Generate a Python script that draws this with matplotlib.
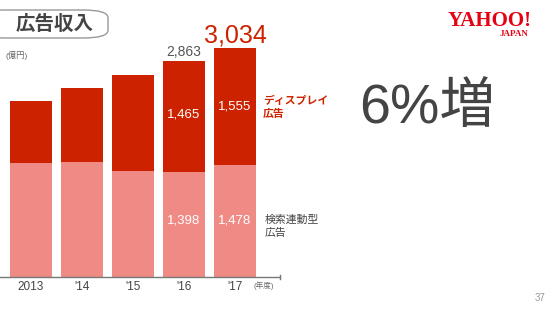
import matplotlib.pyplot as plt
from matplotlib.patches import FancyBboxPatch

plt.rcParams['font.family'] = ['Liberation Sans', 'Noto Sans CJK JP', 'DejaVu Sans']

# データ（億円）
years = ["2013", "'14", "'15", "'16", "'17"]
search = [1511, 1524, 1405, 1398, 1478]
display = [821, 980, 1272, 1465, 1555]
totals = [s + d for s, d in zip(search, display)]
total_labels = {3: "2,863", 4: "3,034"}

RED = "#CC2200"
PINK = "#F08A84"
GRAY = "#444444"

fig = plt.figure(figsize=(5.5, 3.09), dpi=100)

# バーの軸
ax = fig.add_axes([0, 32 / 309, 280 / 550, 249 / 309])
x = range(len(years))
ax.bar(x, search, width=0.82, color=PINK)
ax.bar(x, display, width=0.82, bottom=search, color=RED)
ax.set_xlim(-31 / 51, 249 / 51)
ax.set_ylim(0, 3300)

for s in ['top', 'right', 'left']:
    ax.spines[s].set_visible(False)
ax.spines['bottom'].set_color("#777777")
ax.spines['bottom'].set_linewidth(1.0)
ax.set_yticks([])
ax.set_xticks(list(x))
ax.set_xticklabels(years, fontsize=8.5, color=GRAY)
ax.tick_params(axis='x', length=0, pad=3)
ax.plot([249 / 51, 249 / 51], [-25, 25], color="#777777", lw=1, clip_on=False)

# 合計値
ax.text(3, totals[3] + 25, total_labels[3], ha='center', va='bottom',
        fontsize=10, color="#555555")
ax.text(4, totals[4] + 5, total_labels[4], ha='center', va='bottom',
        fontsize=18, color=RED)

# 内訳の値
disp_frac = {3: 0.52, 4: 0.5}
search_frac = {3: 0.54, 4: 0.51}
for i in [3, 4]:
    ax.text(i, search[i] + display[i] * disp_frac[i], f"{display[i]:,}",
            ha='center', va='center', fontsize=9.5, color="white")
    ax.text(i, search[i] * search_frac[i], f"{search[i]:,}", ha='center',
            va='center', fontsize=9.5, color="white")

# ラベル類
fig.text(263 / 550, 1 - 107 / 309, "ディスプレイ\n広告", fontsize=7.8, color=RED,
         fontweight='bold', va='center', ha='left', linespacing=1.4)
fig.text(265 / 550, 1 - 226 / 309, "検索連動型\n広告", fontsize=7.8, color=GRAY,
         va='center', ha='left', linespacing=1.4)
fig.text(427 / 550, 1 - 109 / 309, "6%増", fontsize=40, color=GRAY,
         ha='center', va='center')
fig.text(5 / 550, 1 - 55 / 309, "(億円)", fontsize=6, color="#666666",
         ha='left', va='center')
fig.text(253 / 550, 1 - 286 / 309, "(年度)", fontsize=5.5, color="#666666",
         ha='left', va='center')
fig.text(545 / 550, 1 - 298 / 309, "37", fontsize=7, color="#999999",
         ha='right', va='center')

# タイトルの枠
pill = FancyBboxPatch((-20 / 550, 1 - 38 / 309), 128 / 550, 28 / 309,
                      boxstyle="round,pad=0,rounding_size=0.045",
                      transform=fig.transFigure, facecolor="white",
                      edgecolor="#999999", lw=1.0, mutation_aspect=309 / 550)
fig.patches.append(pill)
fig.text(55 / 550, 1 - 24 / 309, "広告収入", fontsize=14, color=GRAY,
         fontweight='bold', ha='center', va='center')

# ロゴ
fig.text(490 / 550, 1 - 21 / 309, "YAHOO!", fontsize=15, color="#E60012",
         family='Liberation Serif', fontweight='bold', ha='center', va='center')
fig.text(514 / 550, 1 - 34 / 309, "JAPAN", fontsize=6.5, color="#E60012",
         family='Liberation Serif', fontweight='bold', ha='center', va='center')

fig.savefig("out.png", dpi=100)
